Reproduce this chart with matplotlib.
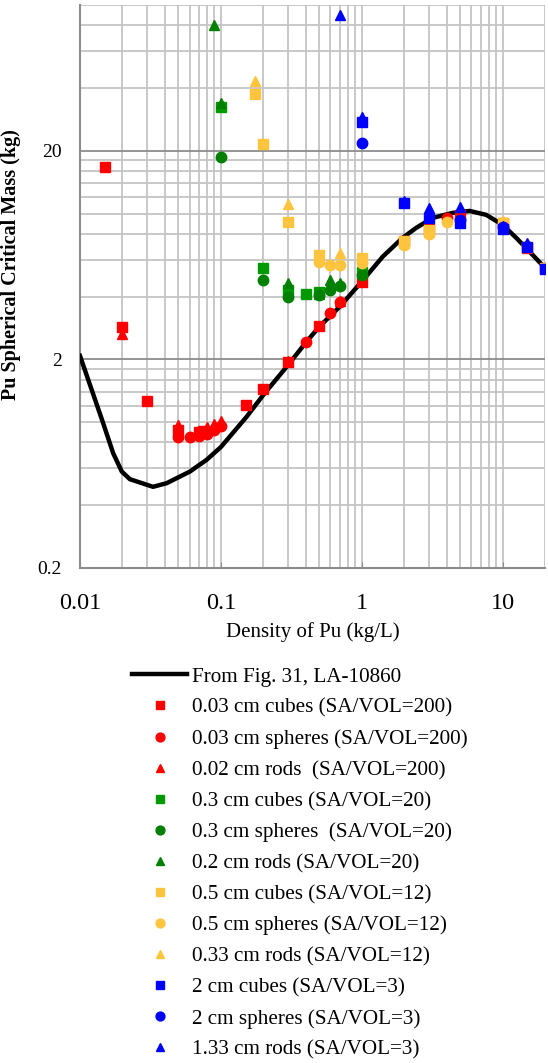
import numpy as np
import matplotlib.pyplot as plt
from matplotlib.ticker import FixedLocator, NullFormatter, FixedFormatter

plt.rcParams['font.family'] = ['Liberation Serif', 'DejaVu Serif']

# LA-10860 reference curve
curve_x = [0.01, 0.0146, 0.0172, 0.0198, 0.0226, 0.033, 0.0412, 0.0603, 0.0792, 0.1, 0.152, 0.2,
           0.3, 0.405, 0.5, 0.698, 1.0, 1.41, 1.95, 2.44, 3.19, 4.42, 5.83, 7.66, 10, 12.5, 15.5, 20]
curve_y = [2.08, 0.99, 0.71, 0.58, 0.533, 0.49, 0.51, 0.58, 0.66, 0.76, 1.06, 1.35,
           1.88, 2.43, 2.87, 3.58, 4.72, 6.22, 7.65, 8.55, 9.54, 10.08, 10.3, 9.86, 8.83, 7.65, 6.58, 5.49]

# SA/VOL = 200
red_cube_x = [0.015, 0.02, 0.03, 0.05, 0.07, 0.075, 0.15, 0.2, 0.3, 0.5, 1, 2, 3, 5, 10, 15, 20]
red_cube_y = [16.8, 2.85, 1.26, 0.92, 0.90, 0.91, 1.21, 1.44, 1.95, 2.9, 4.72, 7.4, 8.4, 9.86, 9.0, 6.83, 5.5]
red_sph_x = [0.05, 0.06, 0.07, 0.08, 0.09, 0.1, 0.4, 0.6, 0.7, 4]
red_sph_y = [0.85, 0.85, 0.86, 0.88, 0.92, 0.96, 2.43, 3.35, 3.75, 9.5]
red_rod_x = [0.02, 0.05, 0.08, 0.09, 0.1, 0.3, 0.7, 5, 10, 15]
red_rod_y = [2.65, 0.97, 0.95, 0.98, 1.01, 1.97, 3.8, 10.0, 9.1, 6.9]

# SA/VOL = 20
grn_cube_x = [0.1, 0.2, 0.3, 0.4, 0.5, 1]
grn_cube_y = [32.5, 5.5, 4.28, 4.12, 4.23, 5.27]
grn_sph_x = [0.1, 0.2, 0.3, 0.5, 0.6, 0.7, 1]
grn_sph_y = [18.7, 4.81, 4.0, 4.05, 4.28, 4.5, 5.1]
grn_rod_x = [0.09, 0.1, 0.3, 0.5, 0.6, 0.7, 1]
grn_rod_y = [80.0, 34.0, 4.67, 4.1, 4.81, 4.64, 5.2]

# SA/VOL = 12
yel_cube_x = [0.175, 0.2, 0.3, 0.5, 1, 2, 3, 10, 15, 20]
yel_cube_y = [37.4, 21.5, 9.16, 6.3, 6.1, 7.35, 8.36, 9.06, 6.9, 5.5]
yel_sph_x = [0.5, 0.6, 0.7, 1, 2, 3, 4, 10, 15]
yel_sph_y = [5.85, 5.68, 5.68, 5.8, 7.1, 8.0, 9.1, 8.9, 7.0]
yel_rod_x = [0.175, 0.3, 0.7, 2, 3, 10, 15]
yel_rod_y = [43.3, 11.1, 6.46, 7.2, 8.2, 9.2, 7.1]

# SA/VOL = 3
blu_cube_x = [1, 2, 3, 5, 10, 15, 20]
blu_cube_y = [27.6, 11.2, 9.5, 9.0, 8.4, 6.9, 5.45]
blu_sph_x = [1, 5, 10]
blu_sph_y = [21.8, 9.35, 8.6]
blu_rod_x = [0.7, 1, 2, 3, 5, 10, 15]
blu_rod_y = [90.0, 29.2, 11.5, 10.6, 10.8, 8.7, 7.25]

red, grn, grn2, yel, blu = '#ff0000', '#009a00', '#008000', '#ffc43d', '#0000ff'

series = [
    (red_cube_x, red_cube_y, 's', red, '0.03 cm cubes (SA/VOL=200)'),
    (red_sph_x, red_sph_y, 'o', red, '0.03 cm spheres (SA/VOL=200)'),
    (red_rod_x, red_rod_y, '^', red, '0.02 cm rods  (SA/VOL=200)'),
    (grn_cube_x, grn_cube_y, 's', grn, '0.3 cm cubes (SA/VOL=20)'),
    (grn_sph_x, grn_sph_y, 'o', grn2, '0.3 cm spheres  (SA/VOL=20)'),
    (grn_rod_x, grn_rod_y, '^', grn2, '0.2 cm rods (SA/VOL=20)'),
    (yel_cube_x, yel_cube_y, 's', yel, '0.5 cm cubes (SA/VOL=12)'),
    (yel_sph_x, yel_sph_y, 'o', yel, '0.5 cm spheres (SA/VOL=12)'),
    (yel_rod_x, yel_rod_y, '^', yel, '0.33 cm rods (SA/VOL=12)'),
    (blu_cube_x, blu_cube_y, 's', blu, '2 cm cubes (SA/VOL=3)'),
    (blu_sph_x, blu_sph_y, 'o', blu, '2 cm spheres (SA/VOL=3)'),
    (blu_rod_x, blu_rod_y, '^', blu, '1.33 cm rods (SA/VOL=3)'),
]

fig = plt.figure(figsize=(5.48, 10.63), dpi=100)
ax = fig.add_axes([80/548, 1-568/1063, 465/548, 563/1063])

ax.plot(curve_x, curve_y, color='black', lw=3.2, label='From Fig. 31, LA-10860', zorder=3)
for xs, ys, m, c, lab in series:
    ax.plot(xs, ys, ls='none', marker=m, color=c, ms=7.5, mec=c, label=lab, zorder=4)

ax.set_xscale('log')
ax.set_yscale('log')
ax.set_xlim(0.01, 20)
ax.set_ylim(0.2, 100)

ax.xaxis.set_major_locator(FixedLocator([0.01, 0.1, 1, 10]))
ax.xaxis.set_major_formatter(FixedFormatter(['0.01', '0.1', '1', '10']))
xminor = [k*d for d in (0.01, 0.1, 1) for k in range(2, 10)] + [20]
ax.xaxis.set_minor_locator(FixedLocator(xminor))
ax.xaxis.set_minor_formatter(NullFormatter())

ax.yaxis.set_major_locator(FixedLocator([0.2, 2, 20]))
ax.yaxis.set_major_formatter(FixedFormatter(['0.2', '2', '20']))
yminor = [k*d for d in (0.2, 2) for k in (2, 3, 4, 5, 6, 7, 8, 9)] + [40, 60, 80, 100]
ax.yaxis.set_minor_locator(FixedLocator(yminor))
ax.yaxis.set_minor_formatter(NullFormatter())

ax.grid(True, which='minor', color='#c4c4c4', lw=1.3)
ax.grid(True, which='major', axis='x', color='#c4c4c4', lw=1.3)
ax.grid(True, which='major', axis='y', color='#8c8c8c', lw=1.3)
ax.set_axisbelow(True)

for s in ('top', 'right'):
    ax.spines[s].set_visible(False)
for s in ('left', 'bottom'):
    ax.spines[s].set_color('#8c8c8c')
    ax.spines[s].set_linewidth(1.5)

ax.tick_params(axis='x', which='major', direction='in', length=4, color='#8c8c8c', labelsize=17.5, pad=18)
ax.tick_params(axis='y', which='major', length=0, labelsize=14, pad=13)
ax.tick_params(which='minor', length=0)

ax.set_xlabel('Density of Pu (kg/L)', fontsize=15, labelpad=6)
ax.set_ylabel('Pu Spherical Critical Mass (kg)', fontsize=14.5, fontweight='bold')
ax.yaxis.set_label_coords(-59/465, (568-265)/563)

leg = ax.legend(loc='upper left', bbox_to_anchor=(132/548, 1-667/1063), bbox_transform=fig.transFigure,
                frameon=False, fontsize=15.2, handlelength=2.62, handletextpad=0.2,
                labelspacing=0.535, borderpad=0, borderaxespad=0, markerscale=0.85)

fig.savefig('out.png', dpi=100)
